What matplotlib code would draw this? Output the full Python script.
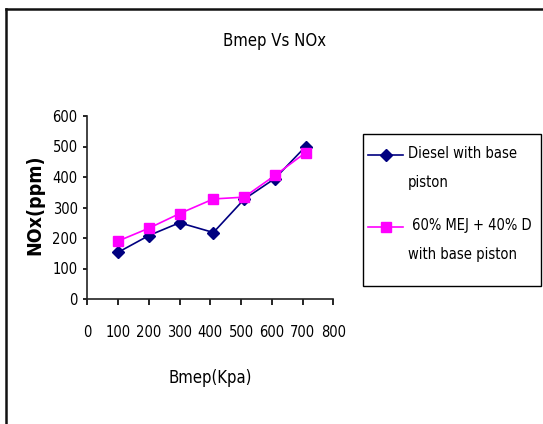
import os
import matplotlib
matplotlib.use("Agg")
import matplotlib.pyplot as plt
from matplotlib.lines import Line2D
from matplotlib.patches import Rectangle
from matplotlib import font_manager
from matplotlib.font_manager import FontProperties

bmep = [100, 200, 300, 410, 510, 610, 710]
nox_diesel = [153, 208, 250, 218, 327, 395, 500]
nox_blend = [190, 232, 280, 328, 334, 405, 480]
series_labels = ["Diesel with base\npiston", " 60% MEJ + 40% D\nwith base piston"]
title = "Bmep Vs NOx"
xlabel = "Bmep(Kpa)"
ylabel = "NOx(ppm)"
xticks = [0, 100, 200, 300, 400, 500, 600, 700, 800]
yticks = [0, 100, 200, 300, 400, 500, 600]

files = font_manager.findSystemFonts()
def find(cands):
    for c in cands:
        for f in files:
            if os.path.basename(f).lower() == c.lower():
                return f
    return None

reg = find(["LiberationSansNarrow-Regular.ttf", "DejaVuSansCondensed.ttf"])
bold = find(["LiberationSansNarrow-Bold.ttf", "DejaVuSansCondensed-Bold.ttf"])
scale = 1.0 if reg is not None else 0.95
def fp(size, b=False):
    f = bold if b else reg
    if f is None:
        return FontProperties(family="Liberation Sans", size=size*scale, weight="bold" if b else "normal")
    return FontProperties(fname=f, size=size)

W, H = 543, 424
fig = plt.figure(figsize=(W/100, H/100), dpi=100)
ax = fig.add_axes([87.3/W, 1-299/H, (333.3-87.3)/W, (299-116)/H])

c1, c2 = "#000080", "#FF00FF"
l1, = ax.plot(bmep, nox_diesel, color=c1, lw=1.2, marker="D", ms=6, mfc=c1, mec=c1)
l2, = ax.plot(bmep, nox_blend, color=c2, lw=1.2, marker="s", ms=7, mfc=c2, mec=c2)

ax.set_xlim(0, 800)
ax.set_ylim(0, 600)
ax.set_xticks(xticks)
ax.set_yticks(yticks)
for s in ["top", "right"]:
    ax.spines[s].set_visible(False)
for s in ["left", "bottom"]:
    ax.spines[s].set_linewidth(1.2)
    ax.spines[s].set_color("#222222")
ax.tick_params(axis="x", direction="out", length=4, width=1.2, pad=15)
ax.tick_params(axis="y", direction="out", length=3, width=1.2, pad=4)
for lab in ax.get_xticklabels() + ax.get_yticklabels():
    lab.set_fontproperties(fp(10.5))

fig.text(275/W, 1-41/H, title, ha="center", va="center", fontproperties=fp(12))
fig.text(210/W, 1-378/H, xlabel, ha="center", va="center", fontproperties=fp(12))
fig.text(35/W, 1-205/H, ylabel, ha="center", va="center", rotation=90, fontproperties=fp(14, True))

# legend box drawn in figure pixel coordinates
def fx(px): return px / W
def fy(py): return 1 - py / H
fig.add_artist(Rectangle((fx(363), fy(286)), fx(541) - fx(363), fy(134) - fy(286),
                         transform=fig.transFigure, fill=False, edgecolor="black", lw=1.0))
entries = [(l1, 155, series_labels[0]), (l2, 227, series_labels[1])]
for line, y, lab in entries:
    fig.add_artist(Line2D([fx(368), fx(403)], [fy(y), fy(y)], transform=fig.transFigure,
                          color=line.get_color(), lw=1.2))
    fig.add_artist(Line2D([fx(386)], [fy(y)], transform=fig.transFigure,
                          marker=line.get_marker(), ms=line.get_markersize(),
                          mfc=line.get_markerfacecolor(), mec=line.get_markeredgecolor(), lw=0))
    fig.text(fx(408), fy(y - 9), lab, ha="left", va="top", linespacing=2.2,
             fontproperties=fp(10.5))

fig.add_artist(Line2D([6/W, 6/W], [0, 1-9/H], transform=fig.transFigure, color="#111111", lw=1.8))
fig.add_artist(Line2D([6/W, 1], [1-9/H, 1-9/H], transform=fig.transFigure, color="#111111", lw=1.8))

fig.savefig("out.png", dpi=100)
